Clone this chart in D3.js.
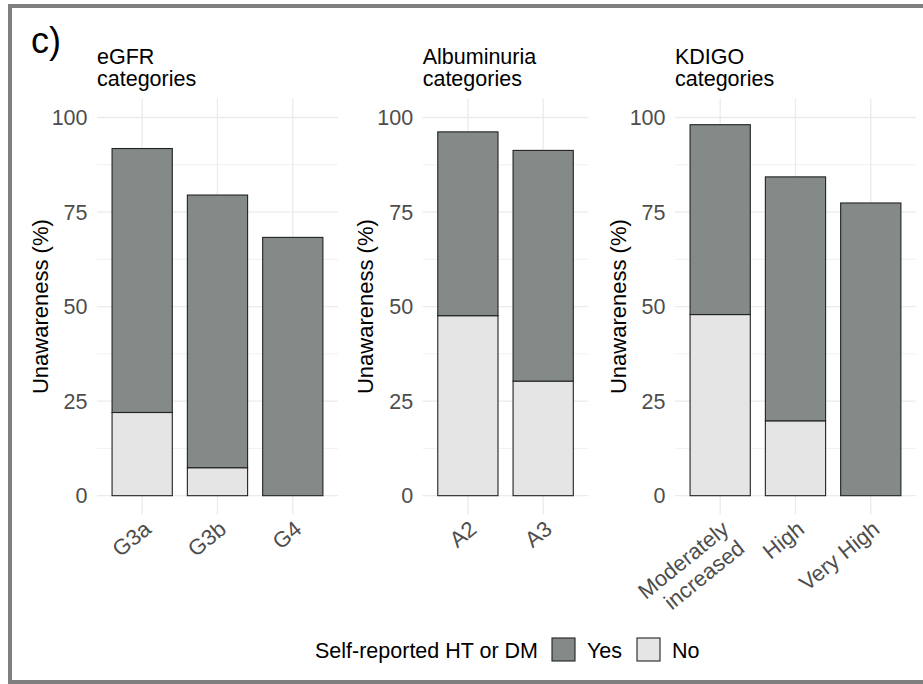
<!DOCTYPE html>
<html><head><meta charset="utf-8">
<script src="https://cdn.jsdelivr.net/npm/d3@7"></script>
<style>
html,body{margin:0;padding:0;background:#fff;}
svg{display:block;font-family:"Liberation Sans",Arial,sans-serif;}
</style></head>
<body>
<script>
// ---- data ----
const panelTitles = [["eGFR","categories"],["Albuminuria","categories"],["KDIGO","categories"]];
const egfrCategories = ["G3a","G3b","G4"];
const egfrNo  = [22.0, 7.4, 0];
const egfrYes = [69.8, 72.1, 68.3];
const albCategories = ["A2","A3"];
const albNo  = [47.6, 30.3];
const albYes = [48.6, 61.0];
const kdigoCategories = ["Moderately\nincreased","High","Very High"];
const kdigoNo  = [47.9, 19.8, 0];
const kdigoYes = [50.2, 64.5, 77.4];
const yTicks = [0,25,50,75,100];
const yMinor = [12.5,37.5,62.5,87.5];
const seriesKeys = ["No","Yes"];
const legendLabels = ["Yes","No"];
const legendTitle = "Self-reported HT or DM";
const yTitle = "Unawareness (%)";
const panelLabel = "c)";

const W = 923, H = 684;
const colors = {Yes:"#838A87", No:"#E5E5E5"};

const svg = d3.select("body").append("svg").attr("width",W).attr("height",H);

// outer frame
svg.append("rect").attr("x",10).attr("y",6).attr("width",940).attr("height",676)
  .attr("fill","none").attr("stroke","#7F7F7F").attr("stroke-width",4);

svg.append("text").attr("x",31).attr("y",53).attr("font-size",36).attr("fill","#000")
  .text(panelLabel);

const step = 75.3;
const panelLefts = [97, 422.7, 675];
const panelData = [
  {cats: egfrCategories, no: egfrNo, yes: egfrYes},
  {cats: albCategories, no: albNo, yes: albYes},
  {cats: kdigoCategories, no: kdigoNo, yes: kdigoYes}
];

const y = d3.scaleLinear().domain([-5,105]).range([514.6, 98.6]);
const angle = 39;

panelData.forEach((p, i) => {
  const left = panelLefts[i];
  const right = left + (p.cats.length + 0.2) * step;
  const x = d3.scaleBand().domain(p.cats).range([left, right]).paddingInner(0.2).paddingOuter(0.2);
  const g = svg.append("g");

  // grid
  g.selectAll(".minor").data(yMinor).join("line")
    .attr("x1",left).attr("x2",right).attr("y1",d=>y(d)).attr("y2",d=>y(d))
    .attr("stroke","#EBEBEB").attr("stroke-width",0.7);
  g.selectAll(".major").data(yTicks).join("line")
    .attr("x1",left).attr("x2",right).attr("y1",d=>y(d)).attr("y2",d=>y(d))
    .attr("stroke","#EBEBEB").attr("stroke-width",1.3);
  g.selectAll(".vgrid").data(p.cats).join("line")
    .attr("x1",d=>x(d)+x.bandwidth()/2).attr("x2",d=>x(d)+x.bandwidth()/2)
    .attr("y1",y(-5)).attr("y2",y(105))
    .attr("stroke","#EBEBEB").attr("stroke-width",1.3);

  // stacked bars
  const table = p.cats.map((c, j) => ({cat:c, No:p.no[j], Yes:p.yes[j]}));
  const stacked = d3.stack().keys(seriesKeys)(table);
  stacked.forEach(layer => {
    g.selectAll(null).data(layer.filter(d => d[1]-d[0] > 0)).join("rect")
      .attr("x", d => x(d.data.cat))
      .attr("width", x.bandwidth())
      .attr("y", d => y(d[1]))
      .attr("height", d => y(d[0]) - y(d[1]))
      .attr("fill", colors[layer.key])
      .attr("stroke", "#222").attr("stroke-width", 1.1);
  });

  // y tick labels
  g.selectAll(".yt").data(yTicks).join("text")
    .attr("x", left - 9.5).attr("y", d => y(d)).attr("dy","0.36em")
    .attr("text-anchor","end").attr("font-size",21.5).attr("fill","#4D4D4D")
    .text(d => d);

  // x tick labels
  p.cats.forEach(c => {
    const cx = x(c) + x.bandwidth()/2;
    const t = g.append("text")
      .attr("transform", `translate(${cx},519) rotate(${-angle})`)
      .attr("text-anchor","end").attr("font-size",22).attr("fill","#4D4D4D");
    c.split("\n").forEach((line, k) => {
      t.append("tspan").attr("x",0).attr("y",0).attr("dy", (0.74 + k*1.12) + "em").text(line);
    });
  });

  // y title
  g.append("text")
    .attr("transform", `translate(${left-49.5},${y(50)}) rotate(-90)`)
    .attr("text-anchor","middle").attr("font-size",22).attr("fill","#000")
    .text(yTitle);

  // panel title
  const tt = g.append("text").attr("font-size",21.5).attr("fill","#000");
  panelTitles[i].forEach((line,k) => {
    tt.append("tspan").attr("x", left).attr("y", 64 + k*22).text(line);
  });
});

// legend
const lg = svg.append("g");
lg.append("text").attr("x",315).attr("y",657.5).attr("font-size",21.5).attr("fill","#000").text(legendTitle);
const legX = [552, 637];
legendLabels.forEach((lab, k) => {
  lg.append("rect").attr("x",legX[k]).attr("y",638).attr("width",23).attr("height",23)
    .attr("fill",colors[lab]).attr("stroke","#222").attr("stroke-width",1.1);
  lg.append("text").attr("x",legX[k]+35).attr("y",657.5).attr("font-size",21.5).attr("fill","#000").text(lab);
});
</script>
</body></html>
